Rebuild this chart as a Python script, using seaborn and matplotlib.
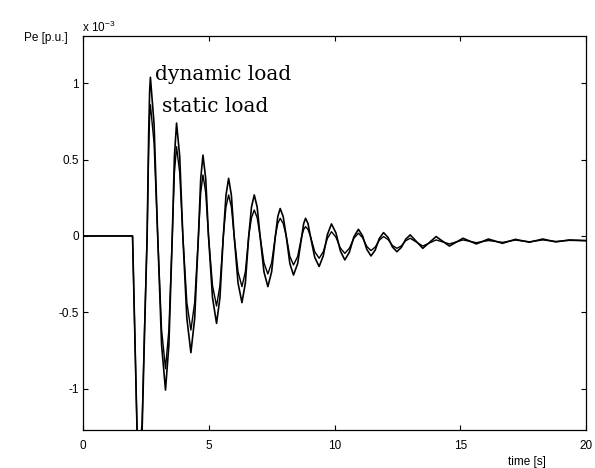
import matplotlib
matplotlib.use("Agg")
import matplotlib.pyplot as plt
import seaborn as sns
import pandas as pd

# ---- data (values in units of 1e-3 p.u.) ----
time_s = [0.0, 1.97, 2.15, 2.25, 2.35, 2.45, 2.55, 2.61, 2.65, 2.68,
          2.825, 2.97, 3.125, 3.28, 3.415, 3.55, 3.635, 3.72, 3.845, 3.97,
          4.13, 4.29, 4.44, 4.59, 4.68, 4.77, 4.88, 4.99, 5.15, 5.31,
          5.445, 5.58, 5.685, 5.79, 5.90, 6.01, 6.165, 6.32, 6.455, 6.59,
          6.70, 6.81, 6.925, 7.04, 7.195, 7.35, 7.50, 7.65, 7.745, 7.84,
          7.96, 8.08, 8.225, 8.37, 8.535, 8.70, 8.775, 8.85, 8.945, 9.04,
          9.215, 9.39,
          9.553, 9.717, 9.88, 10.057, 10.233, 10.41, 10.59, 10.77, 10.95,
          11.117, 11.283, 11.45, 11.617, 11.783, 11.95, 12.127, 12.303,
          12.48, 12.657, 12.833, 13.01,
          13.51, 14.04, 14.57, 15.11, 15.64, 16.12, 16.68, 17.19, 17.75,
          18.28, 18.80, 19.33, 20.0]

dynamic_load = [0, 0, -1.28, -1.50, -1.28, -0.62, 0.0, 0.66, 0.95, 1.04,
                0.735, 0, -0.714, -1.01, -0.714, 0, 0.523, 0.74, 0.523, 0,
                -0.541, -0.765, -0.541, 0, 0.375, 0.53, 0.375, 0, -0.405, -0.573,
                -0.405, 0, 0.267, 0.378, 0.267, 0, -0.309, -0.437, -0.309, 0,
                0.19, 0.269, 0.19, 0, -0.235, -0.332, -0.235, 0, 0.127, 0.18,
                0.127, 0, -0.181, -0.256, -0.181, 0, 0.082, 0.116, 0.082, 0,
                -0.141, -0.20,
                -0.130, 0.009, 0.079, 0.020, -0.098, -0.157, -0.107, -0.006, 0.044,
                0.0, -0.087, -0.131, -0.093, -0.016, 0.022, -0.009, -0.072,
                -0.103, -0.075, -0.021, 0.007,
                -0.081, -0.004, -0.066, -0.015, -0.052, -0.02, -0.048, -0.022, -0.041,
                -0.02, -0.039, -0.026, -0.03]

static_load = [0, 0, -1.28, -1.42, -1.22, -0.58, 0.0, 0.55, 0.79, 0.86,
               0.61, 0, -0.615, -0.87, -0.615, 0, 0.414, 0.585, 0.414, 0,
               -0.436, -0.617, -0.436, 0, 0.283, 0.40, 0.283, 0, -0.325, -0.459,
               -0.325, 0, 0.19, 0.269, 0.19, 0, -0.235, -0.332, -0.235, 0,
               0.12, 0.17, 0.12, 0, -0.176, -0.249, -0.176, 0, 0.082, 0.116,
               0.082, 0, -0.134, -0.19, -0.134, 0, 0.043, 0.061, 0.043, 0,
               -0.103, -0.146,
               -0.103, -0.016, 0.028, -0.008, -0.079, -0.114, -0.081, -0.015, 0.018,
               -0.011, -0.068, -0.096, -0.073, -0.027, -0.004, -0.023, -0.062,
               -0.081, -0.065, -0.031, -0.015,
               -0.066, -0.026, -0.052, -0.026, -0.044, -0.03, -0.042, -0.027, -0.038,
               -0.026, -0.036, -0.029, -0.031]

x_ticks = [0, 5, 10, 15, 20]
x_tick_labels = ["0", "5", "10", "15", "20"]
y_ticks = [-1, -0.5, 0, 0.5, 1]
y_tick_labels = ["-1", "-0.5", "0", "0.5", "1"]

# ---- style ----
sns.set_theme(style="ticks")
plt.rcParams["font.family"] = ["Liberation Sans", "DejaVu Sans"]
plt.rcParams["axes.unicode_minus"] = False

df = pd.DataFrame({"time": time_s, "dynamic": dynamic_load, "static": static_load})

fig = plt.figure(figsize=(5.95, 4.68), dpi=100)
ax = fig.add_axes([83 / 595, 1 - 430 / 468, 503 / 595, 394 / 468])

sns.lineplot(data=df, x="time", y="dynamic", ax=ax, color="black",
             linewidth=1.2, sort=False, estimator=None)
sns.lineplot(data=df, x="time", y="static", ax=ax, color="black",
             linewidth=1.0, sort=False, estimator=None)

ax.set_xlim(0, 20)
ax.set_ylim(-1.272, 1.311)
ax.set_xticks(x_ticks)
ax.set_xticklabels(x_tick_labels)
ax.set_yticks(y_ticks)
ax.set_yticklabels(y_tick_labels)
ax.set_xlabel("")
ax.set_ylabel("")

for s in ax.spines.values():
    s.set_visible(True)
    s.set_linewidth(0.9)
    s.set_color("black")

ax.tick_params(axis="both", which="both", direction="in", length=3.5, width=0.8,
               top=True, right=True, labelsize=8.5, colors="black")
ax.tick_params(axis="x", pad=7)
ax.tick_params(axis="y", pad=3)

serif = ["DejaVu Serif"]
ax.text(2.86, 1.023, "dynamic load", family=serif, fontsize=14.5,
        ha="left", va="baseline", color="black")
ax.text(3.14, 0.813, "static load", family=serif, fontsize=14.5,
        ha="left", va="baseline", color="black")

fig.text(68 / 595, 1 - 38 / 468, "Pe [p.u.]", ha="right", va="center",
         fontsize=8.5, color="black")
fig.text(82 / 595, 1 - 32 / 468, r"x 10$^{\mathregular{-3}}$", ha="left",
         va="baseline", fontsize=8.5, color="black")
fig.text(527 / 595, 1 - 462 / 468, "time [s]", ha="center", va="center",
         fontsize=8.5, color="black")

fig.savefig("out.png", dpi=100, facecolor="white")
